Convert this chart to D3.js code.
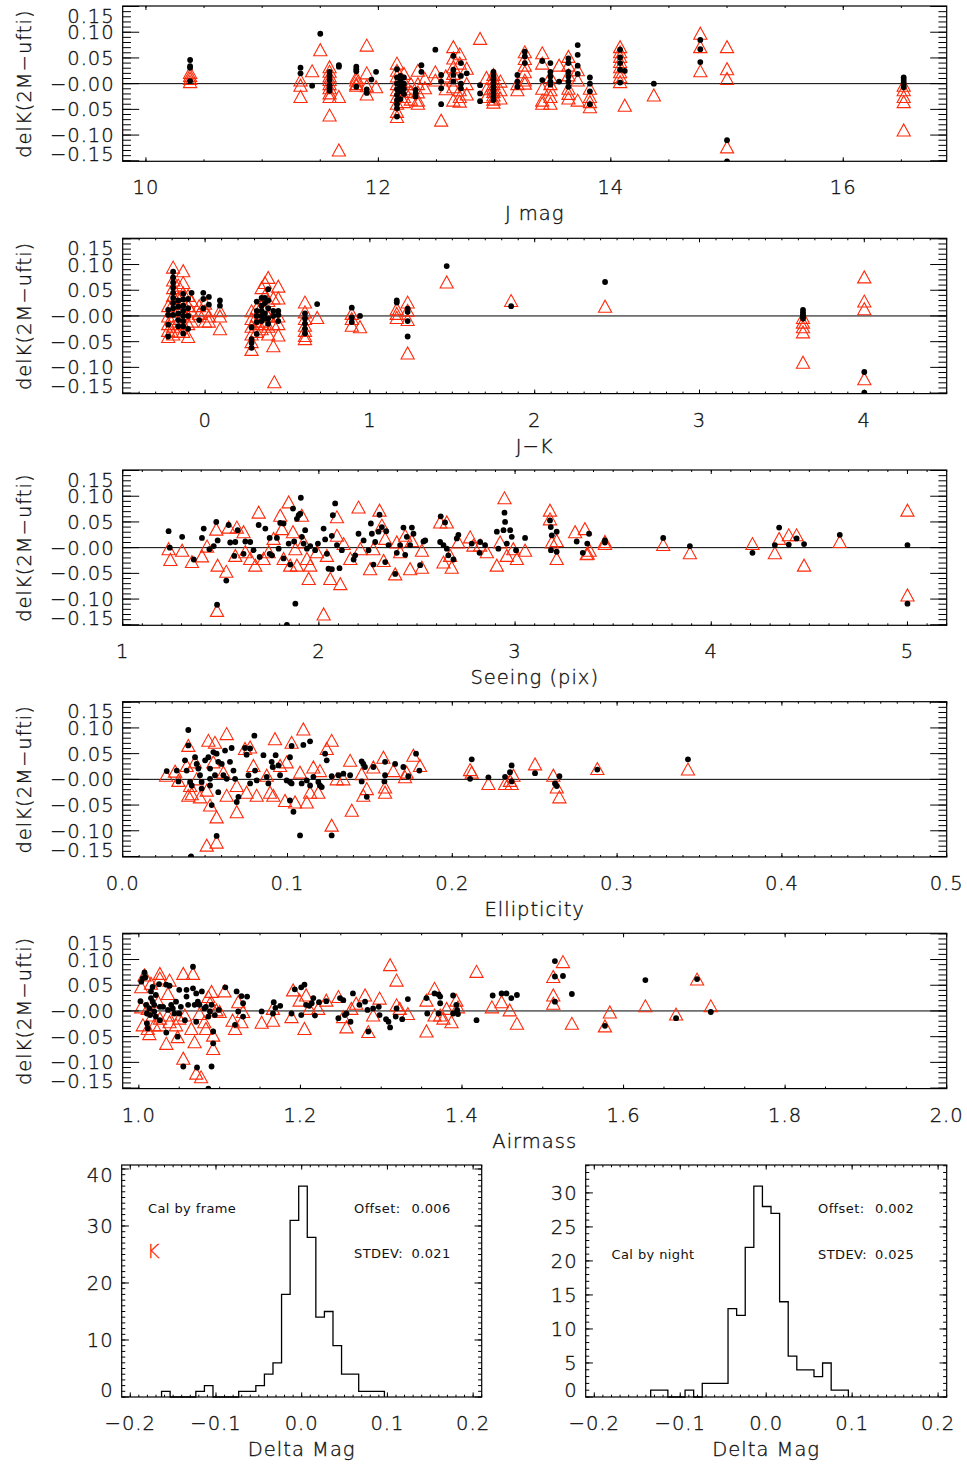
<!DOCTYPE html>
<html>
<head>
<meta charset="utf-8">
<script src="https://cdn.jsdelivr.net/npm/d3@7"></script>
<style>
  body { margin: 0; background: #fff; }
  svg text { font-family: "DejaVu Sans", sans-serif; font-weight: 200; fill: #111; stroke: #111; stroke-width: 0.35px; }
  svg text.note { font-weight: 400; stroke: none; fill: #111; }
</style>
</head>
<body>
<svg id="chart" width="967" height="1465"></svg>
<script>
// ---- valores: [x, delK] ----
const jmagTri = [[10.38,0.022],[10.38,0.016],[10.38,0.010],[10.38,0.004],[11.33,0.007],[11.33,-0.003],[11.33,-0.025],[11.43,0.025],[11.50,0.066],[11.58,0.033],[11.58,0.024],[11.58,0.015],[11.58,0.008],[11.58,0.0],[11.58,-0.008],[11.58,-0.018],[11.58,-0.025],[11.58,-0.061],[11.66,-0.025],[11.66,-0.129],[11.81,0.012],[11.81,0.007],[11.81,0.0],[11.81,-0.003],[11.90,0.075],[11.90,0.021],[11.90,-0.004],[11.90,-0.020],[11.98,-0.006],[12.16,0.040],[12.16,0.026],[12.16,0.015],[12.16,0.0],[12.16,-0.012],[12.16,-0.025],[12.16,-0.038],[12.16,-0.054],[12.16,-0.064],[12.22,0.020],[12.22,0.005],[12.22,-0.010],[12.22,-0.025],[12.22,-0.035],[12.28,0.0],[12.28,-0.015],[12.28,-0.030],[12.34,0.026],[12.34,0.0],[12.34,-0.016],[12.34,-0.032],[12.34,-0.038],[12.40,0.010],[12.40,-0.008],[12.49,0.023],[12.49,0.007],[12.54,-0.071],[12.58,0.015],[12.58,-0.010],[12.645,0.072],[12.645,0.050],[12.645,0.033],[12.645,0.020],[12.645,0.007],[12.645,-0.006],[12.645,-0.032],[12.70,0.058],[12.70,0.040],[12.70,-0.012],[12.70,-0.025],[12.70,-0.034],[12.76,0.030],[12.76,0.0],[12.76,-0.020],[12.875,0.088],[12.93,0.012],[12.93,-0.010],[12.93,-0.025],[12.99,0.018],[12.99,0.010],[12.99,0.0],[12.99,-0.008],[12.99,-0.015],[12.99,-0.022],[12.99,-0.030],[12.99,-0.036],[13.05,0.005],[13.05,-0.012],[13.05,-0.028],[13.196,0.0],[13.196,-0.012],[13.26,0.062],[13.26,0.049],[13.26,0.036],[13.26,0.023],[13.26,0.007],[13.26,0.001],[13.41,0.060],[13.41,0.040],[13.41,-0.009],[13.41,-0.032],[13.41,-0.038],[13.48,0.014],[13.48,0.0],[13.48,-0.012],[13.48,-0.025],[13.48,-0.038],[13.555,0.036],[13.635,0.053],[13.635,0.036],[13.635,0.017],[13.635,-0.009],[13.635,-0.019],[13.635,-0.028],[13.715,0.027],[13.715,0.007],[13.715,-0.032],[13.82,-0.009],[13.82,-0.025],[13.82,-0.035],[13.82,-0.045],[14.08,0.072],[14.08,0.062],[14.08,0.053],[14.08,0.043],[14.08,0.033],[14.08,0.023],[14.08,0.014],[14.08,0.004],[14.12,-0.042],[14.37,-0.022],[14.77,0.098],[14.77,0.072],[14.77,0.025],[15.0,0.072],[15.0,0.029],[15.0,0.010],[15.0,-0.123],[16.52,-0.003],[16.52,-0.012],[16.52,-0.025],[16.52,-0.035],[16.52,-0.090]];
const jmagDot = [[10.38,0.046],[10.38,0.034],[10.38,0.031],[10.38,0.005],[11.33,0.031],[11.33,0.020],[11.43,-0.004],[11.50,0.097],[11.58,0.023],[11.58,0.015],[11.58,0.007],[11.58,-0.003],[11.58,-0.009],[11.58,-0.014],[11.66,0.036],[11.66,0.033],[11.81,0.033],[11.81,0.028],[11.81,0.024],[11.81,-0.006],[11.90,-0.011],[11.90,-0.018],[11.94,0.008],[11.98,0.023],[12.16,0.028],[12.16,0.012],[12.16,0.0],[12.16,-0.011],[12.16,-0.022],[12.16,-0.032],[12.16,-0.040],[12.16,-0.048],[12.16,-0.064],[12.19,0.015],[12.19,0.005],[12.19,-0.005],[12.19,-0.015],[12.19,-0.030],[12.22,0.012],[12.22,0.0],[12.22,-0.010],[12.22,-0.020],[12.32,-0.012],[12.32,-0.019],[12.32,-0.025],[12.37,0.036],[12.37,0.023],[12.49,0.066],[12.54,0.017],[12.54,0.004],[12.54,-0.009],[12.54,-0.040],[12.645,0.054],[12.645,0.027],[12.645,0.017],[12.645,0.004],[12.71,0.040],[12.71,0.015],[12.71,0.0],[12.71,-0.009],[12.76,0.020],[12.875,-0.003],[12.875,-0.019],[12.875,-0.034],[12.99,0.023],[12.99,0.015],[12.99,0.008],[12.99,0.0],[12.99,-0.006],[12.99,-0.012],[12.99,-0.018],[12.99,-0.025],[12.99,-0.032],[13.196,0.017],[13.196,0.004],[13.196,-0.006],[13.26,0.062],[13.26,0.053],[13.26,0.040],[13.41,0.044],[13.41,0.007],[13.48,0.040],[13.48,0.023],[13.48,0.014],[13.48,0.004],[13.48,-0.002],[13.555,0.004],[13.635,0.049],[13.635,0.040],[13.635,0.023],[13.635,0.014],[13.635,0.004],[13.635,-0.006],[13.715,0.075],[13.715,0.056],[13.715,0.035],[13.715,0.019],[13.82,0.012],[13.82,0.0],[13.82,-0.015],[13.82,-0.040],[14.08,0.066],[14.08,0.051],[14.08,0.040],[14.08,0.027],[14.08,0.002],[14.12,0.025],[14.37,0.0],[14.77,0.085],[14.77,0.067],[14.77,0.042],[15.0,-0.110],[15.0,-0.151],[16.52,0.012],[16.52,0.007],[16.52,0.002],[16.52,-0.002],[16.52,-0.007]];

const jkTri = [[-0.224,0.020],[-0.224,0.0],[-0.224,-0.015],[-0.224,-0.028],[-0.224,-0.040],[-0.194,0.095],[-0.194,0.070],[-0.194,0.055],[-0.194,0.040],[-0.194,0.025],[-0.194,0.010],[-0.194,-0.005],[-0.194,-0.020],[-0.194,-0.035],[-0.163,0.060],[-0.163,0.035],[-0.163,0.015],[-0.163,-0.010],[-0.163,-0.030],[-0.133,0.088],[-0.133,0.065],[-0.133,0.045],[-0.133,0.025],[-0.133,0.005],[-0.133,-0.015],[-0.133,-0.030],[-0.103,0.040],[-0.103,0.020],[-0.103,0.0],[-0.103,-0.015],[-0.103,-0.040],[-0.082,0.030],[-0.082,0.010],[-0.082,-0.010],[-0.036,0.020],[-0.036,0.005],[0.0,0.025],[0.0,0.010],[0.0,-0.010],[0.023,0.0],[0.023,-0.010],[0.09,0.010],[0.09,0.0],[0.09,-0.025],[0.282,0.010],[0.282,-0.005],[0.282,-0.020],[0.282,-0.035],[0.282,-0.050],[0.282,-0.065],[0.313,0.015],[0.313,0.0],[0.313,-0.015],[0.313,-0.030],[0.343,0.055],[0.343,0.020],[0.343,0.005],[0.343,-0.010],[0.343,-0.025],[0.363,0.065],[0.363,0.040],[0.363,0.010],[0.363,-0.015],[0.383,0.075],[0.383,0.030],[0.383,0.0],[0.383,-0.020],[0.383,-0.035],[0.414,0.035],[0.414,0.0],[0.414,-0.015],[0.414,-0.058],[0.42,-0.128],[0.444,0.058],[0.444,0.035],[0.444,0.0],[0.444,-0.015],[0.444,-0.037],[0.606,0.027],[0.606,0.008],[0.606,-0.005],[0.606,-0.018],[0.606,-0.028],[0.606,-0.038],[0.606,-0.044],[0.68,-0.003],[0.89,0.005],[0.89,-0.005],[0.89,-0.018],[0.94,-0.021],[1.163,0.014],[1.163,0.005],[1.163,-0.003],[1.229,0.027],[1.229,0.011],[1.229,-0.007],[1.229,-0.072],[1.466,0.066],[1.857,0.030],[2.427,0.019],[3.628,-0.003],[3.628,-0.012],[3.628,-0.021],[3.628,-0.031],[3.628,-0.090],[4.0,0.076],[4.0,0.029],[4.0,0.014],[4.0,-0.122]];
const jkDot = [[-0.224,0.012],[-0.224,0.002],[-0.224,-0.017],[-0.224,-0.040],[-0.194,0.086],[-0.194,0.075],[-0.194,0.065],[-0.194,0.055],[-0.194,0.045],[-0.194,0.035],[-0.194,0.025],[-0.194,0.015],[-0.194,0.002],[-0.163,0.030],[-0.163,0.018],[-0.163,0.005],[-0.163,-0.008],[-0.163,-0.020],[-0.133,0.043],[-0.133,0.032],[-0.133,0.020],[-0.133,0.010],[-0.133,0.0],[-0.133,-0.010],[-0.133,-0.020],[-0.133,-0.034],[-0.103,0.033],[-0.103,0.015],[-0.103,0.0],[-0.103,-0.025],[-0.082,0.045],[-0.036,-0.008],[-0.011,0.045],[-0.011,0.033],[-0.011,0.015],[0.023,0.037],[0.023,0.022],[0.09,0.030],[0.09,0.020],[0.282,-0.022],[0.282,-0.045],[0.282,-0.052],[0.282,-0.062],[0.313,0.028],[0.313,0.010],[0.313,0.0],[0.313,-0.012],[0.313,-0.035],[0.343,0.035],[0.343,0.020],[0.343,0.010],[0.343,0.0],[0.343,-0.010],[0.363,0.035],[0.363,0.025],[0.363,0.005],[0.363,-0.005],[0.383,0.052],[0.383,0.030],[0.383,0.015],[0.383,-0.005],[0.383,-0.015],[0.414,0.010],[0.414,0.0],[0.444,0.010],[0.444,0.002],[0.444,-0.010],[0.606,0.005],[0.606,-0.005],[0.606,-0.015],[0.606,-0.025],[0.606,-0.034],[0.68,0.023],[0.89,0.016],[0.89,-0.003],[0.89,-0.012],[0.94,0.0],[1.163,0.030],[1.163,0.026],[1.229,0.014],[1.229,0.008],[1.229,-0.010],[1.229,-0.040],[1.466,0.097],[1.857,0.019],[2.427,0.066],[3.628,0.012],[3.628,0.007],[3.628,0.003],[3.628,-0.001],[3.628,-0.005],[4.0,-0.109],[4.0,-0.149]];

const seeingTri = [[1.234,-0.002],[1.243,-0.023],[1.303,-0.005],[1.353,-0.027],[1.404,-0.016],[1.430,0.003],[1.477,0.036],[1.484,-0.034],[1.481,-0.122],[1.528,-0.046],[1.540,0.040],[1.574,-0.015],[1.582,0.040],[1.616,0.031],[1.625,-0.008],[1.650,-0.021],[1.676,-0.034],[1.693,0.069],[1.718,-0.021],[1.744,-0.008],[1.769,0.018],[1.803,0.063],[1.812,0.037],[1.820,-0.021],[1.846,0.089],[1.854,-0.034],[1.868,0.031],[1.880,-0.002],[1.888,-0.034],[1.913,0.063],[1.922,0.011],[1.939,-0.021],[1.956,-0.034],[1.948,-0.060],[1.990,-0.008],[2.024,-0.129],[2.041,-0.015],[2.058,-0.060],[2.092,0.060],[2.092,0.024],[2.109,-0.070],[2.126,0.008],[2.160,-0.021],[2.202,0.079],[2.211,-0.002],[2.261,-0.041],[2.278,-0.002],[2.309,0.073],[2.321,0.044],[2.330,-0.025],[2.338,0.018],[2.389,-0.051],[2.397,0.011],[2.414,-0.008],[2.440,0.024],[2.465,-0.041],[2.474,0.014],[2.525,-0.005],[2.525,-0.038],[2.618,0.050],[2.635,-0.028],[2.652,0.050],[2.669,-0.015],[2.677,-0.038],[2.711,0.011],[2.771,0.021],[2.788,0.005],[2.822,0.005],[2.856,-0.008],[2.907,-0.034],[2.924,0.011],[2.946,0.097],[2.958,-0.015],[2.991,-0.002],[3.009,-0.021],[3.051,-0.005],[3.178,0.073],[3.178,0.056],[3.187,0.011],[3.212,-0.021],[3.212,0.014],[3.306,0.031],[3.356,0.037],[3.365,-0.012],[3.380,-0.005],[3.370,-0.011],[3.458,0.012],[3.458,0.008],[3.755,0.006],[3.891,-0.010],[4.210,0.008],[4.324,-0.010],[4.346,0.018],[4.395,0.025],[4.435,0.025],[4.473,-0.034],[4.655,0.012],[5.0,0.073],[5.0,-0.092]];
const seeingDot = [[1.234,0.032],[1.240,0.0],[1.303,0.021],[1.362,-0.023],[1.404,0.019],[1.413,0.037],[1.442,-0.003],[1.464,0.003],[1.477,0.050],[1.484,0.014],[1.481,-0.111],[1.528,-0.064],[1.540,0.044],[1.548,0.010],[1.569,-0.016],[1.574,0.011],[1.586,0.034],[1.616,-0.012],[1.625,0.012],[1.650,0.011],[1.667,-0.005],[1.693,0.044],[1.698,-0.018],[1.727,0.037],[1.749,0.019],[1.749,-0.012],[1.761,-0.015],[1.786,0.019],[1.795,-0.002],[1.803,0.048],[1.820,0.047],[1.820,-0.021],[1.846,0.008],[1.854,-0.033],[1.868,0.076],[1.874,0.012],[1.880,-0.109],[1.837,-0.150],[1.888,0.056],[1.897,0.063],[1.905,0.066],[1.908,0.097],[1.913,0.021],[1.922,0.008],[1.930,0.034],[1.939,-0.002],[1.956,0.003],[1.981,-0.005],[1.995,0.008],[2.024,0.037],[2.032,0.016],[2.041,-0.012],[2.049,-0.041],[2.066,-0.042],[2.066,0.023],[2.071,0.063],[2.083,0.086],[2.092,0.005],[2.105,-0.040],[2.117,-0.005],[2.177,-0.023],[2.185,-0.015],[2.202,0.027],[2.228,0.014],[2.253,-0.005],[2.265,0.047],[2.270,0.027],[2.278,-0.033],[2.287,0.011],[2.304,0.031],[2.309,0.064],[2.321,0.040],[2.338,-0.028],[2.343,0.032],[2.355,0.005],[2.389,-0.051],[2.397,-0.010],[2.414,0.005],[2.431,0.039],[2.440,-0.014],[2.448,0.021],[2.465,0.005],[2.474,0.039],[2.482,0.027],[2.516,-0.034],[2.533,0.012],[2.542,0.014],[2.618,0.011],[2.621,0.061],[2.635,0.005],[2.643,0.049],[2.652,-0.002],[2.660,-0.015],[2.686,-0.023],[2.703,0.018],[2.711,0.025],[2.779,0.008],[2.822,0.011],[2.819,-0.010],[2.847,0.005],[2.907,0.031],[2.915,-0.002],[2.941,0.034],[2.946,0.068],[2.949,0.050],[2.958,0.008],[2.975,0.034],[2.983,0.021],[3.005,-0.005],[3.051,0.019],[3.178,0.053],[3.182,0.040],[3.187,0.024],[3.183,-0.005],[3.212,0.031],[3.212,-0.008],[3.314,0.012],[3.345,-0.010],[3.368,0.008],[3.377,0.027],[3.458,0.014],[3.458,0.010],[3.755,0.019],[3.891,0.003],[4.210,-0.010],[4.324,0.005],[4.346,0.039],[4.395,0.006],[4.435,0.018],[4.473,0.007],[4.655,0.025],[5.0,0.005],[5.0,-0.109]];

const ellipTri = [[0.0263,0.008],[0.0318,0.016],[0.0338,-0.002],[0.0398,0.066],[0.0388,0.027],[0.0409,-0.012],[0.0419,-0.028],[0.0398,-0.031],[0.0439,0.034],[0.0449,0.001],[0.0469,-0.034],[0.0510,-0.021],[0.0520,0.076],[0.0560,0.072],[0.0550,0.034],[0.0530,-0.050],[0.0570,-0.073],[0.0510,-0.128],[0.0570,-0.122],[0.0631,0.089],[0.0611,0.014],[0.0631,-0.031],[0.0692,-0.063],[0.0692,-0.012],[0.0742,0.060],[0.0773,0.063],[0.0793,0.027],[0.0752,-0.025],[0.0813,-0.031],[0.0874,0.008],[0.0894,-0.025],[0.0914,-0.031],[0.0924,0.079],[0.0955,0.027],[0.0985,-0.041],[0.0995,0.034],[0.1025,0.072],[0.1046,-0.044],[0.1076,0.014],[0.1096,0.098],[0.1117,-0.044],[0.1137,-0.025],[0.1157,0.024],[0.1187,-0.025],[0.1197,0.017],[0.1238,0.060],[0.1268,0.076],[0.1268,-0.089],[0.1299,0.001],[0.1339,0.001],[0.1380,0.037],[0.1390,-0.060],[0.1450,0.011],[0.1460,-0.031],[0.1481,-0.018],[0.1521,0.024],[0.1582,0.043],[0.1592,-0.025],[0.1592,-0.015],[0.1642,0.017],[0.1713,0.005],[0.1723,0.014],[0.1764,0.047],[0.1804,0.027],[0.2108,0.019],[0.2118,0.014],[0.2219,-0.008],[0.2320,-0.008],[0.2350,-0.002],[0.2371,0.008],[0.2360,-0.008],[0.2502,0.030],[0.2613,0.008],[0.2634,-0.015],[0.2650,-0.034],[0.288,0.021],[0.343,0.020]];
const ellipDot = [[0.0267,0.016],[0.0328,0.017],[0.0338,-0.004],[0.0398,0.096],[0.0398,0.066],[0.0378,0.037],[0.0388,0.017],[0.0409,-0.005],[0.0419,-0.012],[0.0439,0.043],[0.0449,0.030],[0.0459,0.021],[0.0469,0.008],[0.0479,-0.005],[0.0479,-0.018],[0.0500,0.037],[0.0520,0.043],[0.0530,0.021],[0.0530,0.001],[0.0540,-0.050],[0.0530,-0.012],[0.0550,0.053],[0.0570,0.050],[0.0580,0.034],[0.0560,0.008],[0.0580,-0.025],[0.0570,-0.110],[0.0601,0.030],[0.0611,0.008],[0.0621,0.056],[0.0631,0.001],[0.0661,0.061],[0.0651,0.034],[0.0672,0.017],[0.0682,0.001],[0.0692,-0.044],[0.0702,-0.034],[0.0742,0.061],[0.0752,0.048],[0.0773,0.060],[0.0763,0.008],[0.0773,-0.008],[0.0799,0.085],[0.0803,0.017],[0.0813,-0.002],[0.0854,0.047],[0.0874,0.005],[0.0884,-0.008],[0.0904,0.034],[0.0910,0.024],[0.0928,0.047],[0.0945,0.027],[0.0955,0.008],[0.0995,-0.002],[0.1015,-0.005],[0.1025,-0.008],[0.1015,-0.041],[0.1036,-0.063],[0.1025,0.065],[0.1015,0.043],[0.1076,-0.109],[0.1086,-0.008],[0.1117,-0.002],[0.1137,-0.012],[0.1157,0.005],[0.1096,0.067],[0.1137,0.074],[0.1187,-0.005],[0.1197,-0.012],[0.1208,-0.015],[0.1228,0.050],[0.1238,0.037],[0.1268,-0.109],[0.1268,0.006],[0.1309,0.008],[0.1339,0.011],[0.1380,0.008],[0.1450,0.035],[0.1460,0.030],[0.1470,0.024],[0.1450,-0.004],[0.1481,-0.034],[0.1521,0.024],[0.1592,0.034],[0.1592,0.008],[0.1588,-0.004],[0.1653,0.030],[0.1703,0.024],[0.1733,0.006],[0.1780,0.050],[0.1800,0.017],[0.2118,0.039],[0.2108,0.001],[0.2219,0.004],[0.2320,0.005],[0.2350,0.014],[0.2360,0.027],[0.2360,-0.004],[0.2502,0.012],[0.2623,-0.008],[0.2634,-0.013],[0.2650,0.006],[0.288,0.019],[0.343,0.039],[0.0415,-0.150]];

const airmassTri = [[1.003,0.047],[1.003,0.008],[1.005,-0.027],[1.007,0.070],[1.011,-0.034],[1.013,-0.044],[1.011,0.005],[1.015,0.054],[1.017,-0.008],[1.019,-0.027],[1.026,0.073],[1.026,0.064],[1.024,0.018],[1.026,-0.014],[1.026,-0.027],[1.036,0.034],[1.034,-0.063],[1.038,0.060],[1.036,-0.008],[1.038,-0.021],[1.046,-0.027],[1.048,-0.050],[1.050,-0.014],[1.055,0.073],[1.055,-0.092],[1.057,-0.008],[1.065,-0.034],[1.067,0.073],[1.069,-0.060],[1.071,-0.121],[1.077,-0.128],[1.075,-0.005],[1.081,-0.021],[1.083,-0.034],[1.086,0.028],[1.088,0.015],[1.090,0.038],[1.092,-0.047],[1.092,-0.073],[1.096,0.002],[1.100,-0.001],[1.106,0.039],[1.116,-0.018],[1.119,-0.034],[1.123,0.018],[1.127,-0.021],[1.129,-0.001],[1.152,-0.022],[1.166,-0.018],[1.166,0.005],[1.189,-0.011],[1.191,0.041],[1.199,0.021],[1.205,-0.034],[1.207,0.031],[1.211,0.005],[1.222,0.005],[1.232,0.021],[1.247,0.028],[1.253,-0.011],[1.257,-0.031],[1.263,0.005],[1.269,0.015],[1.280,0.031],[1.284,-0.040],[1.290,-0.008],[1.298,0.025],[1.311,0.090],[1.319,0.060],[1.319,0.012],[1.323,0.005],[1.333,-0.005],[1.356,0.021],[1.356,-0.039],[1.366,0.044],[1.366,-0.008],[1.373,-0.008],[1.377,-0.014],[1.381,0.005],[1.387,-0.021],[1.393,0.021],[1.395,0.008],[1.418,0.077],[1.437,0.008],[1.449,0.018],[1.459,0.002],[1.468,-0.024],[1.513,0.067],[1.513,0.031],[1.513,0.015],[1.525,0.096],[1.536,-0.024],[1.577,-0.029],[1.583,-0.002],[1.627,0.010],[1.665,-0.006],[1.691,0.062],[1.708,0.010]];
const airmassDot = [[1.002,0.019],[1.003,0.057],[1.005,0.064],[1.007,0.075],[1.008,0.065],[1.009,0.012],[1.010,-0.005],[1.010,-0.024],[1.011,-0.034],[1.013,0.005],[1.014,-0.008],[1.015,0.025],[1.017,0.047],[1.015,0.038],[1.017,0.018],[1.019,0.012],[1.019,-0.001],[1.021,-0.011],[1.021,0.031],[1.025,0.052],[1.026,0.008],[1.026,-0.018],[1.030,0.008],[1.034,0.051],[1.038,0.049],[1.036,0.002],[1.034,-0.042],[1.040,0.012],[1.042,0.005],[1.044,-0.005],[1.046,0.018],[1.048,-0.050],[1.050,0.041],[1.050,-0.005],[1.055,-0.108],[1.052,0.008],[1.057,-0.018],[1.059,0.041],[1.059,0.028],[1.061,0.012],[1.067,0.086],[1.067,0.044],[1.069,0.012],[1.071,0.034],[1.073,0.018],[1.071,-0.021],[1.072,-0.110],[1.075,0.012],[1.078,0.038],[1.081,0.005],[1.083,0.008],[1.086,-0.011],[1.088,-0.001],[1.090,0.012],[1.092,-0.040],[1.092,-0.063],[1.090,-0.108],[1.086,-0.151],[1.094,-0.008],[1.099,0.002],[1.107,0.046],[1.119,-0.027],[1.121,0.038],[1.123,-0.001],[1.127,0.029],[1.129,0.015],[1.129,-0.011],[1.134,0.028],[1.152,-0.001],[1.166,-0.005],[1.167,0.017],[1.169,0.006],[1.175,0.010],[1.189,-0.005],[1.193,0.042],[1.201,-0.008],[1.201,0.046],[1.205,0.051],[1.207,0.012],[1.211,0.010],[1.214,0.015],[1.216,0.025],[1.218,-0.009],[1.223,0.017],[1.232,0.019],[1.247,-0.014],[1.249,0.025],[1.253,0.021],[1.255,-0.008],[1.257,-0.005],[1.262,-0.021],[1.265,0.034],[1.273,0.012],[1.280,0.018],[1.284,-0.040],[1.283,0.002],[1.290,0.005],[1.298,-0.008],[1.297,0.008],[1.306,-0.016],[1.309,-0.021],[1.311,-0.032],[1.318,-0.011],[1.319,0.005],[1.326,-0.016],[1.333,0.023],[1.356,0.025],[1.357,-0.005],[1.366,0.034],[1.371,0.032],[1.373,0.028],[1.371,-0.005],[1.373,0.015],[1.389,0.030],[1.389,-0.005],[1.393,0.012],[1.394,0.002],[1.395,-0.006],[1.418,-0.018],[1.438,0.030],[1.449,0.034],[1.455,0.034],[1.461,0.025],[1.468,0.031],[1.515,0.097],[1.515,0.067],[1.515,0.018],[1.525,0.068],[1.536,0.033],[1.577,-0.029],[1.627,0.060],[1.665,-0.014],[1.691,0.062],[1.708,-0.002]];

// histogramas (ancho de bin 0.01)
const binWidth = 0.01;
const frameStart = -0.1635;
const frameCounts = [1,0,0,0,1,2,0,0,0,1,1,2,4,6,18,31,37,28,14,15,9,4,4,1,1,1];
const nightStart = -0.1344;
const nightCounts = [1,1,0,0,1,0,2,2,2,13,12,22,31,28,27,14,6,4,4,3,5,1,1];

// etiquetas de los ejes
const delkTicks = [-0.15, -0.10, -0.05, 0, 0.05, 0.10, 0.15];
const delkLabels = ["\u22120.15", "\u22120.10", "\u22120.05", "\u22120.00", "0.05", "0.10", "0.15"];
const jmagTicks = [10, 12, 14, 16], jmagLabels = ["10", "12", "14", "16"];
const jkTicks = [0, 1, 2, 3, 4], jkLabels = ["0", "1", "2", "3", "4"];
const seeingTicks = [1, 2, 3, 4, 5], seeingLabels = ["1", "2", "3", "4", "5"];
const ellipTicks = [0, 0.1, 0.2, 0.3, 0.4, 0.5], ellipLabels = ["0.0", "0.1", "0.2", "0.3", "0.4", "0.5"];
const airmassTicks = [1.0, 1.2, 1.4, 1.6, 1.8, 2.0], airmassLabels = ["1.0", "1.2", "1.4", "1.6", "1.8", "2.0"];
const dmagTicks = [-0.2, -0.1, 0, 0.1, 0.2], dmagLabels = ["\u22120.2", "\u22120.1", "0.0", "0.1", "0.2"];
const frameYTicks = [0, 10, 20, 30, 40], frameYLabels = ["0", "10", "20", "30", "40"];
const nightYTicks = [0, 5, 10, 15, 20, 25, 30], nightYLabels = ["0", "5", "10", "15", "20", "25", "30"];

// ---- dibujo ----
const svg = d3.select("#chart");
const RED = "#ff2a0a";
const boxL = 122.7, boxR = 946.7, boxH = 155.3;
const tickFont = 19.5;

// marco con ticks hacia dentro en los cuatro lados, y etiquetas
function frame(g, x, y, o) {
  const [L, R] = x.range();
  const [B, T] = y.range();
  const tk = g.append("g").attr("stroke", "#000").attr("stroke-width", 1);
  const addX = (vals, len) => vals.forEach(v => {
    const px = x(v);
    tk.append("line").attr("x1", px).attr("x2", px).attr("y1", B).attr("y2", B - len);
    tk.append("line").attr("x1", px).attr("x2", px).attr("y1", T).attr("y2", T + len);
  });
  const addY = (vals, len) => vals.forEach(v => {
    const py = y(v);
    tk.append("line").attr("x1", L).attr("x2", L + len).attr("y1", py).attr("y2", py);
    tk.append("line").attr("x1", R).attr("x2", R - len).attr("y1", py).attr("y2", py);
  });
  addX(o.xMinor, o.xLen / 2);
  addX(o.xTicks, o.xLen);
  addY(o.yMinor, o.yLen / 2);
  addY(o.yTicks, o.yLen);

  g.append("rect")
    .attr("x", L).attr("y", T).attr("width", R - L).attr("height", B - T)
    .attr("fill", "none").attr("stroke", "#000").attr("stroke-width", 1.2);

  g.selectAll(".xlab").data(o.xTicks).enter().append("text")
    .attr("x", d => x(d)).attr("y", B + 33)
    .attr("text-anchor", "middle")
    .style("font-size", tickFont + "px").style("letter-spacing", "1px")
    .text((d, i) => o.xLabels[i]);

  g.selectAll(".ylab").data(o.yTicks).enter().append("text")
    .attr("x", L - 8)
    .attr("y", d => Math.min(Math.max(y(d), T + 9.5), B - 7.5) + 7)
    .attr("text-anchor", "end")
    .style("font-size", tickFont + "px").style("letter-spacing", "1px")
    .text((d, i) => o.yLabels[i]);

  g.append("text")
    .attr("x", (L + R) / 2).attr("y", B + 59)
    .attr("text-anchor", "middle")
    .style("font-size", tickFont + "px").style("letter-spacing", "1px")
    .text(o.xTitle);
}

function minorTicks(domain, start, step) {
  return d3.range(start, domain[1] + step / 10, step)
    .filter(v => v >= domain[0] - 1e-9 && v <= domain[1] + 1e-9);
}

const panels = [
  { top: 6, domain: [9.8, 16.89], ticks: jmagTicks, labels: jmagLabels, minor: [10, 0.5], title: "J mag", tri: jmagTri, dot: jmagDot },
  { top: 238.3, domain: [-0.5, 4.5], ticks: jkTicks, labels: jkLabels, minor: [-0.5, 0.1], title: "J\u2212K", tri: jkTri, dot: jkDot },
  { top: 470, domain: [1, 5.2], ticks: seeingTicks, labels: seeingLabels, minor: [1, 0.1], title: "Seeing (pix)", tri: seeingTri, dot: seeingDot },
  { top: 701.7, domain: [0, 0.5], ticks: ellipTicks, labels: ellipLabels, minor: [0, 0.01], title: "Ellipticity", tri: ellipTri, dot: ellipDot },
  { top: 933.3, domain: [0.98, 2.0], ticks: airmassTicks, labels: airmassLabels, minor: [1.0, 0.05], title: "Airmass", tri: airmassTri, dot: airmassDot }
];

const delkDomain = [-0.151, 0.151];

panels.forEach((p, k) => {
  const x = d3.scaleLinear().domain(p.domain).range([boxL, boxR]);
  const y = d3.scaleLinear().domain(delkDomain).range([p.top + boxH, p.top]);
  const g = svg.append("g");

  const clipId = "clip" + k;
  svg.append("clipPath").attr("id", clipId).append("rect")
    .attr("x", boxL).attr("y", p.top).attr("width", boxR - boxL).attr("height", boxH);

  const marks = g.append("g").attr("clip-path", "url(#" + clipId + ")");

  // linea de cero
  marks.append("line")
    .attr("x1", boxL).attr("x2", boxR).attr("y1", y(0)).attr("y2", y(0))
    .attr("stroke", "#000").attr("stroke-width", 1);

  marks.selectAll(".tri").data(p.tri).enter().append("path")
    .attr("d", "M-6.6,6L0,-6L6.6,6Z")
    .attr("transform", d => "translate(" + x(d[0]) + "," + y(d[1]) + ")")
    .attr("fill", "none").attr("stroke", RED).attr("stroke-width", 1.1);

  marks.selectAll(".dot").data(p.dot).enter().append("circle")
    .attr("cx", d => x(d[0])).attr("cy", d => y(d[1])).attr("r", 2.9)
    .attr("fill", "#000");

  frame(g, x, y, {
    xTicks: p.ticks, xLabels: p.labels, xMinor: minorTicks(p.domain, p.minor[0], p.minor[1]), xLen: 4,
    yTicks: delkTicks, yLabels: delkLabels, yMinor: minorTicks(delkDomain, -0.15, 0.01), yLen: 16.5,
    xTitle: p.title
  });

  g.append("text")
    .attr("transform", "translate(30.5," + (p.top + boxH / 2) + ") rotate(-90)")
    .attr("text-anchor", "middle")
    .style("font-size", tickFont + "px").style("letter-spacing", "1px")
    .text("delK(2M\u2212ufti)");
});

// ---- histogramas ----
const histTop = 1165, histBottom = 1397;
const hists = [
  { L: 121.7, R: 481.7, yMax: 40.7, start: frameStart, counts: frameCounts, yTicks: frameYTicks, yLabels: frameYLabels },
  { L: 585.7, R: 946.7, yMax: 34.1, start: nightStart, counts: nightCounts, yTicks: nightYTicks, yLabels: nightYLabels }
];
const dmagDomain = [-0.21, 0.21];

hists.forEach(h => {
  const x = d3.scaleLinear().domain(dmagDomain).range([h.L, h.R]);
  const y = d3.scaleLinear().domain([0, h.yMax]).range([histBottom, histTop]);
  const g = svg.append("g");

  const pts = [[h.start, 0]];
  h.counts.forEach((c, i) => {
    pts.push([h.start + i * binWidth, c]);
    pts.push([h.start + (i + 1) * binWidth, c]);
  });
  pts.push([h.start + h.counts.length * binWidth, 0]);

  g.append("path")
    .attr("d", d3.line().x(d => x(d[0])).y(d => y(d[1]))(pts))
    .attr("fill", "none").attr("stroke", "#000").attr("stroke-width", 1.3);

  frame(g, x, y, {
    xTicks: dmagTicks, xLabels: dmagLabels, xMinor: minorTicks(dmagDomain, -0.2, 0.01), xLen: 4.6,
    yTicks: h.yTicks, yLabels: h.yLabels, yMinor: minorTicks([0, h.yMax], 0, 1), yLen: 7.2,
    xTitle: "Delta Mag"
  });
  h.g = g;
});

// textos de los histogramas
function note(g, x, y, txt, size, color) {
  g.append("text").attr("class", "note").attr("x", x).attr("y", y)
    .style("font-size", size + "px").style("letter-spacing", "0.4px")
    .style("fill", color || "#111")
    .text(txt);
}
note(hists[0].g, 148, 1212.5, "Cal by frame", 13);
note(hists[0].g, 354, 1212.5, "Offset:", 13);
note(hists[0].g, 411.5, 1212.5, "0.006", 13);
note(hists[0].g, 354, 1258, "STDEV:", 13);
note(hists[0].g, 411.5, 1258, "0.021", 13);
hists[0].g.append("text").attr("x", 147).attr("y", 1258)
  .style("font-size", "19.5px").style("fill", RED).style("stroke", RED)
  .text("K");

note(hists[1].g, 611.5, 1259, "Cal by night", 13);
note(hists[1].g, 818, 1213, "Offset:", 13);
note(hists[1].g, 875, 1213, "0.002", 13);
note(hists[1].g, 818, 1259, "STDEV:", 13);
note(hists[1].g, 875, 1259, "0.025", 13);
</script>
</body>
</html>
